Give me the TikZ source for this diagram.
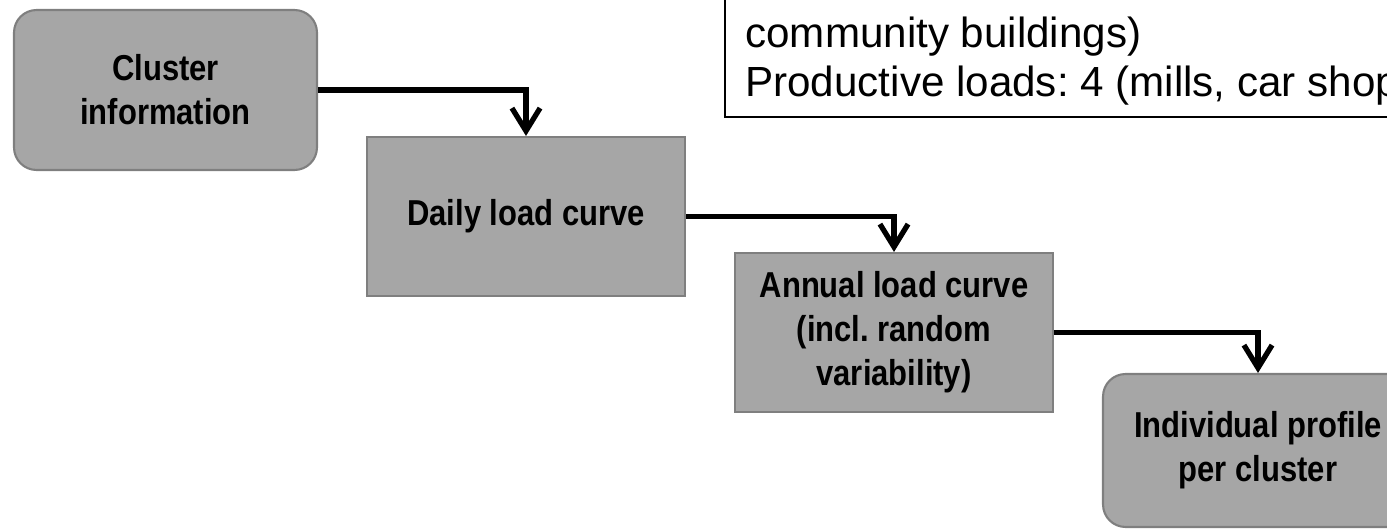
\documentclass[tikz,border=0pt]{standalone}
\usepackage{fontspec}
\setmainfont{Liberation Sans}
\newfontfamily\narrowfont[FakeStretch=0.86]{Liberation Sans}
\usetikzlibrary{positioning,arrows.meta}
\definecolor{boxgray}{HTML}{A6A6A6}
\definecolor{edgegray}{HTML}{7F7F7F}
\frenchspacing

\begin{document}
\begin{tikzpicture}[x=0.02cm, y=-0.02cm,
  stage/.style={draw=edgegray, line width=1.2pt, fill=boxgray,
    minimum width=6.36cm, minimum height=3.18cm, align=center,
    font=\narrowfont\bfseries\fontsize{20.5}{25}\selectfont},
  roundstage/.style={stage, rounded corners=0.45cm},
  flow/.style={line width=3pt, -{Straight Barb[length=13pt, width=16pt]}}]
  \path[use as bounding box, clip] (0,0) rectangle (1387,530);
  % info box runs off the page
  \draw[line width=1.2pt] (725,-20) rectangle (1420,117);
  \node[anchor=base west, align=left, inner sep=0pt,
    font=\fontsize{24}{28.3}\selectfont] (info) at (745,97)
    {community buildings)\\Productive loads: 4 (mills, car shop};
  \node[roundstage, minimum width=6.06cm, minimum height=3.2cm] (cluster) at (165.5,90) {Cluster\\information};
  \node[stage] (daily) at (526,216.5) {Daily load curve};
  \node[stage] (annual) at (894,332.5) {Annual load curve\\(incl. random\\variability)};
  \node[roundstage, minimum width=6.2cm, minimum height=3.06cm] (profile) at (1258,450.5) {Individual profile\\per cluster};
  \draw[flow] (cluster.east) -| (daily.north);
  \draw[flow] (daily.east) -| (annual.north);
  \draw[flow] (annual.east) -| (profile.north);
\end{tikzpicture}
\end{document}
